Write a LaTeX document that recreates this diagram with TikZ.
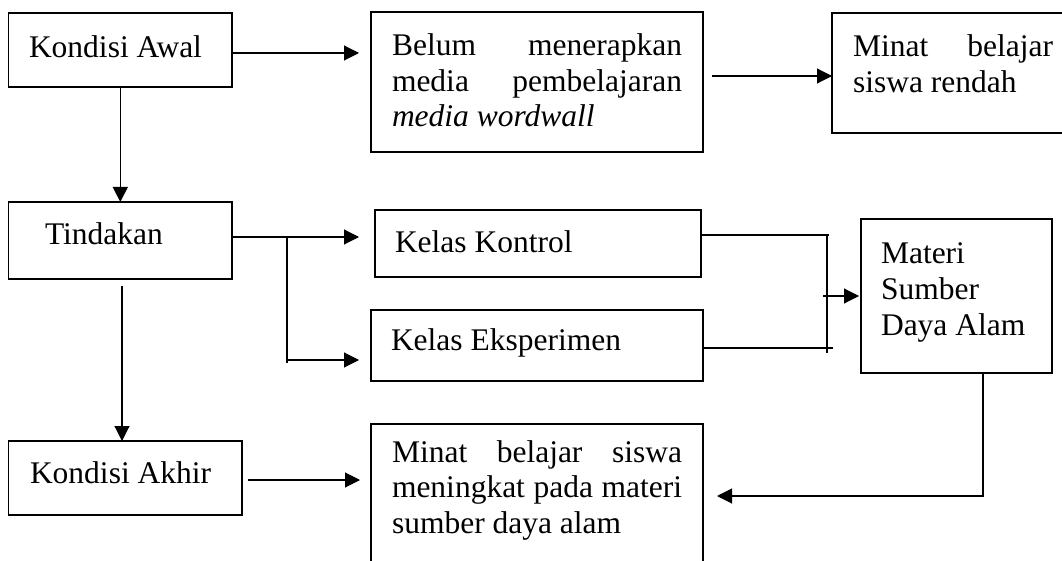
\documentclass[tikz,border=0pt]{standalone}
\usepackage{fontspec}
\setmainfont{Liberation Serif}
\usetikzlibrary{arrows.meta}
\tikzset{
  box/.style={draw, line width=1.1pt, inner sep=0pt, outer sep=0pt, anchor=north west},
  txt/.style={inner sep=0pt, outer sep=0pt, anchor=base west, font=\fontsize{31.5}{35.5}\selectfont},
  conn/.style={line width=1.1pt},
  arr/.style={conn, -{Triangle[length=15pt,width=15pt]}}
}
\begin{document}
\begin{tikzpicture}[x=1pt,y=-1pt]
\useasboundingbox (0,0) rectangle (1062,561);
\clip (0,0) rectangle (1062,561);
\fill[white] (0,0) rectangle (1062,561);
% boxes
\node[box, minimum width=223.4pt, minimum height=74pt] (awal) at (8.6,13) {};
\node[box, minimum width=332pt, minimum height=140pt] (belum) at (371,12) {};
\node[box, minimum width=260pt, minimum height=120pt] (minat1) at (832,13) {};
\node[box, minimum width=223.4pt, minimum height=77pt] (tind) at (8.6,202) {};
\node[box, minimum width=326pt, minimum height=67pt] (kontrol) at (375,210) {};
\node[box, minimum width=332pt, minimum height=71pt] (eks) at (371,310) {};
\node[box, minimum width=191pt, minimum height=154pt] (materi) at (861,219) {};
\node[box, minimum width=233.4pt, minimum height=74pt] (akhir) at (8.6,441) {};
\node[box, minimum width=332pt, minimum height=180pt] (minat2) at (371,424) {};
% texts
\node[txt] (tawal) at (29,58) {Kondisi Awal};
\node[txt] (tbelum) at (392,56) {\parbox[t]{290pt}{\makebox[290pt][s]{Belum menerapkan}\\\makebox[290pt][s]{media pembelajaran}\\\textit{media wordwall}}};
\node[txt] (tminat1) at (853,57) {\parbox[t]{200pt}{\makebox[200pt][s]{Minat belajar}\\siswa rendah}};
\node[txt] (ttind) at (45,245) {Tindakan};
\node[txt] (tkontrol) at (395,253) {Kelas Kontrol};
\node[txt] (teks) at (391,350) {Kelas Eksperimen};
\node[txt] (tmateri) at (881,264) {\parbox[t]{170pt}{Materi\\Sumber\\Daya Alam}};
\node[txt] (takhir) at (30,483) {Kondisi Akhir};
\node[txt] (tminat2) at (392,462) {\parbox[t]{290pt}{\makebox[290pt][s]{Minat belajar siswa}\\\makebox[290pt][s]{meningkat pada materi}\\sumber daya alam}};
% connectors
\coordinate (br) at (287,237);
\coordinate (jn) at (827,296);
\draw[arr, shorten >=12pt] (awal.east |- 0,53) -- (belum.west |- 0,53);
\draw[arr, shorten <=9pt] (belum.east |- 0,76) -- (minat1.west |- 0,76);
\draw[arr] (awal.south) -- (tind.north);
\draw[arr, shorten >=16pt] (tind.east |- 0,237) -- (kontrol.west |- 0,237);
\draw[conn] (br) -- (287,363);
\draw[arr, shorten >=12pt] (br |- 0,360) -- (eks.west |- 0,360);
\draw[arr, shorten <=7pt] (tind.south -| 122,0) -- (akhir.north -| 122,0);
\draw[arr, shorten <=6pt, shorten >=11pt] (akhir.east |- 0,480) -- (minat2.west |- 0,480);
\draw[conn] (kontrol.east |- 0,235) -- (829,235);
\draw[conn] (eks.east |- 0,348) -- (833,348);
\draw[conn] (jn |- 0,234) -- (jn |- 0,353);
\draw[arr, shorten >=2pt] ([xshift=-4pt]jn) -- (materi.west |- jn);
\draw[arr, shorten >=14pt] (materi.south -| 983,0) -- (983,496) -- (minat2.east |- 0,496);
\end{tikzpicture}
\end{document}
